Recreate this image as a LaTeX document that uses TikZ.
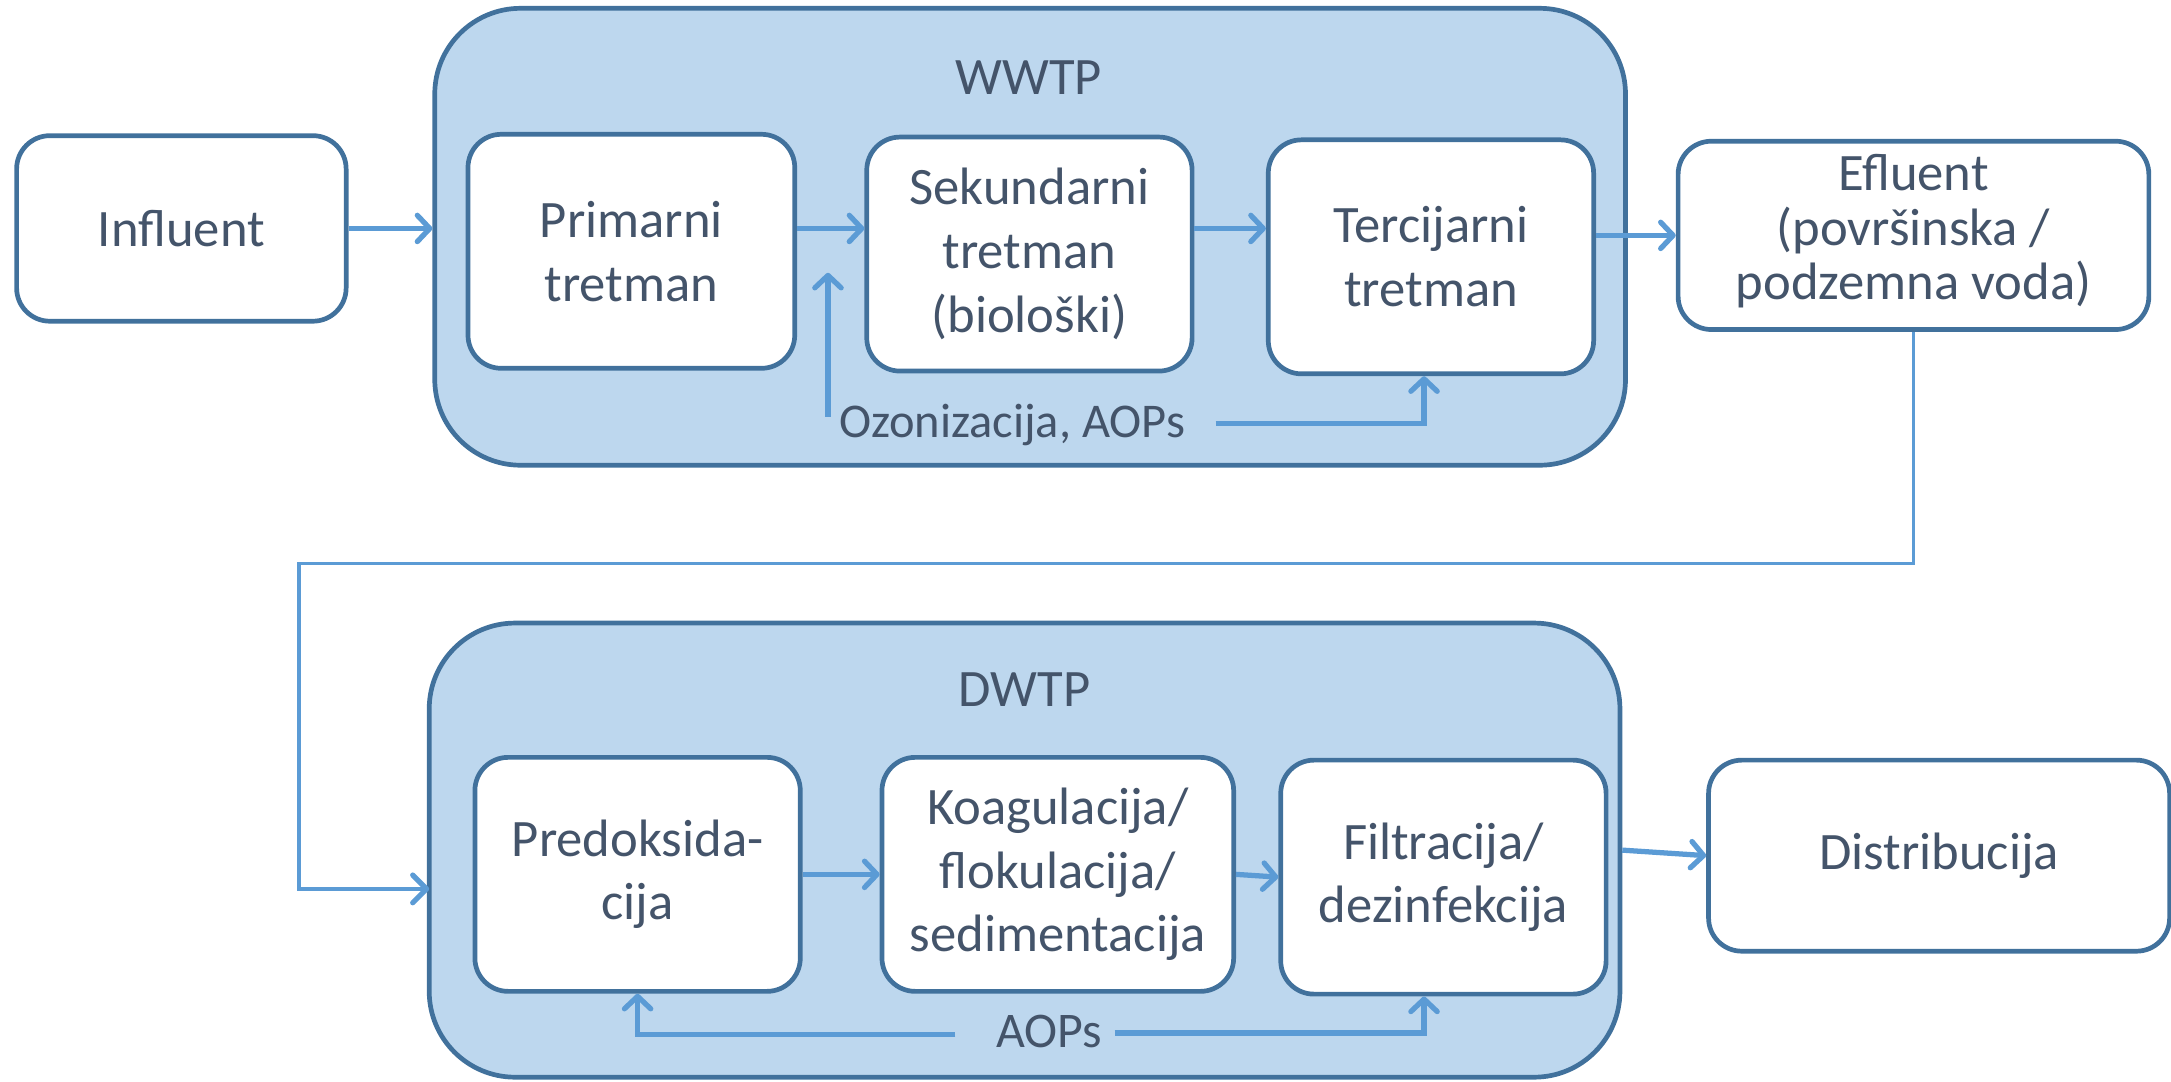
\documentclass[tikz,border=0pt]{standalone}
\usepackage{fontspec}
\setmainfont{Carlito}
\usetikzlibrary{arrows.meta}
\definecolor{boxline}{HTML}{41719C}
\definecolor{fillc}{HTML}{BDD7EE}
\definecolor{arrc}{HTML}{5B9BD5}
\definecolor{txt}{HTML}{44546A}
\begin{document}
\begin{tikzpicture}[x=1pt,y=-1pt,
  container/.style={draw=boxline, line width=3.4pt, fill=fillc, rounded corners=62pt, inner sep=0pt},
  stepbox/.style={draw=boxline, line width=3.4pt, fill=white, rounded corners=24pt, text=txt, align=center,
    font=\fontsize{38}{46}\selectfont, inner sep=0pt},
  lbl/.style={text=txt, font=\fontsize{38}{46}\selectfont, inner sep=0pt, align=center},
  flow/.style={draw=arrc, line width=3.8pt, -{Straight Barb[length=9pt,width=19pt,round]}},
  flowthin/.style={draw=arrc, line width=2.6pt, -{Straight Barb[length=10pt,width=20pt,line width=3.8pt,round]}}
]
\useasboundingbox (0,0) rectangle (1568,781);
% containers
\node[container, minimum width=860pt, minimum height=330pt] (wwtp) at (744,171) {};
\node[container, minimum width=860pt, minimum height=328pt] (dwtp) at (740,614) {};
\node[lbl] (wwtpl) at (743,56) {WWTP};
\node[lbl] (dwtpl) at (740,498) {DWTP};
% top row
\node[stepbox, minimum width=238pt, minimum height=134pt] (infl) at (131,165) {Influent};
\node[stepbox, minimum width=236pt, minimum height=169pt] (prim) at (456,181.5) {Primarni\\tretman};
\node[stepbox, minimum width=235pt, minimum height=169pt] (sek) at (743.5,183.5) {Sekundarni\\tretman\\(biološki)};
\node[stepbox, minimum width=235pt, minimum height=169pt] (terc) at (1033.5,185.5) {Tercijarni\\tretman};
\node[stepbox, minimum width=340pt, minimum height=136pt, font=\fontsize{38}{39.5}\selectfont] (eff) at (1382,170) {\raisebox{0pt}{}Efluent\\(površinska /\\podzemna voda)\vspace{6pt}};
\node[lbl, font=\fontsize{35}{42}\selectfont] (ozon) at (731,307) {Ozonizacija, AOPs};
% bottom row
\node[stepbox, minimum width=235pt, minimum height=169pt] (pred) at (460.5,631.5) {Predoksida-\\cija};
\node[stepbox, minimum width=254pt, minimum height=169pt] (koag) at (764,631.5) {Koagulacija/\\flokulacija/\\sedimentacija};
\node[stepbox, minimum width=235pt, minimum height=169pt] (filt) at (1042.5,633.5) {Filtracija/\\dezinfekcija};
\node[stepbox, minimum width=333pt, minimum height=138pt] (dist) at (1400.5,618) {Distribucija};
\node[lbl, font=\fontsize{36}{42}\selectfont] (aops) at (758,745) {AOPs};
% top arrows
\draw[flow] (infl.east) -- (infl.east -| wwtp.west);
\draw[flow] (prim.east |- infl.east) -- (sek.west |- infl.east);
\draw[flow] (sek.east |- infl.east) -- (terc.west |- infl.east);
\draw[flow] (terc.east |- eff.west) -- (eff.west);
\coordinate (oz1) at (598,301);
\coordinate (oz1e) at (598,197);
\draw[flow] (oz1) -- (oz1e);
\coordinate (oz2) at (878,306);
\draw[flow] (oz2) -| ([xshift=-5pt]terc.south);
% long connector
\coordinate (c1) at (216,407);
\coordinate (c2) at (310,642);
\draw[flowthin] (eff.south) |- (c1) |- (c2);
% bottom arrows
\draw[flow] (pred.east) -- (koag.west);
\draw[flow] (koag.east) -- (filt.west);
\draw[flow] (dwtp.east) -- (dist.west);
\coordinate (ao1) at (690,747);
\draw[flow] (ao1) -| (pred.south);
\coordinate (ao2) at (805,746);
\draw[flow] (ao2) -| ([xshift=-14pt]filt.south);
\end{tikzpicture}
\end{document}
